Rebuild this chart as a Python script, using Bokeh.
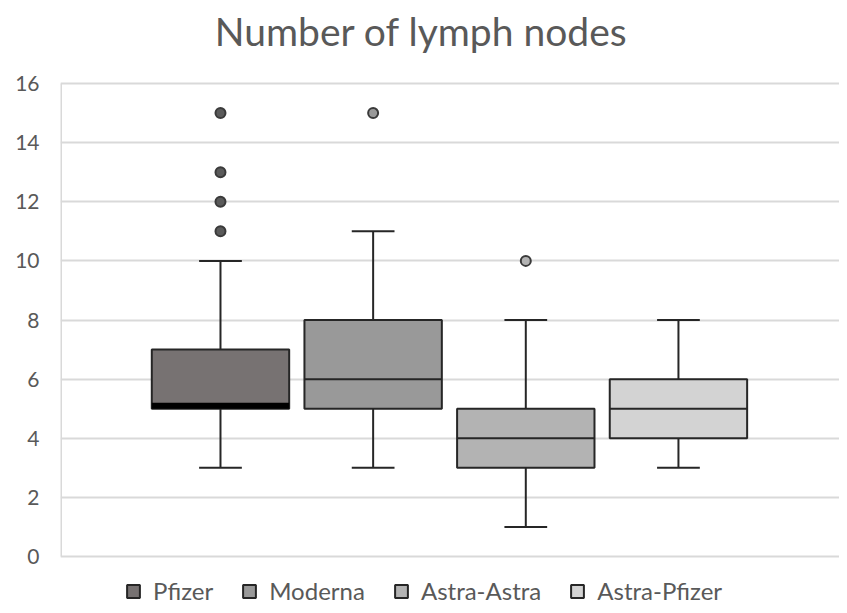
from bokeh.plotting import figure
from bokeh.models import Range1d, Legend, LegendItem, FixedTicker, Label
from bokeh.embed import file_html
from bokeh.resources import INLINE

title_text = "Number of lymph nodes"
groups = ["Pfizer", "Moderna", "Astra-Astra", "Astra-Pfizer"]
colors = ["#777272", "#999999", "#b3b3b3", "#d3d3d3"]
lower_whisker = [3, 3, 1, 3]
q1 = [5, 5, 3, 4]
median = [5, 6, 4, 5]
q3 = [7, 8, 5, 6]
upper_whisker = [10, 11, 8, 8]
outliers = [[15, 13, 12, 11], [15], [10], []]
y_ticks = [0, 2, 4, 6, 8, 10, 12, 14, 16]

FONT = "Lato"
EDGE = "#262626"
GRID = "#d9d9d9"
W, H = 839, 605
LEFT = 60

px_per_unit = 473 / 16.0
y_min = y_ticks[0] - 49 / px_per_unit   # room below for the legend
y_max = y_ticks[-1] + 83 / px_per_unit  # room above for the title
x_start, x_end = -0.048, 5.055

p = figure(width=W, height=H, output_backend="svg", toolbar_location=None,
           x_range=Range1d(x_start, x_end), y_range=Range1d(y_min, y_max),
           min_border_left=LEFT, min_border_right=0, min_border_top=0, min_border_bottom=0)
p.outline_line_color = None
p.background_fill_color = "white"
p.border_fill_color = "white"

p.add_layout(Label(x=421 - LEFT, y=H - 30, x_units="screen", y_units="screen",
                   text=title_text, text_align="center", text_baseline="alphabetic",
                   text_font=FONT, text_font_size="39px", text_color="#595959"))

xs = list(range(1, len(groups) + 1))
bw = 0.9
cap = 0.28

p.xaxis.visible = False
p.xgrid.visible = False
p.ygrid.grid_line_color = GRID
p.ygrid.grid_line_width = 2
p.yaxis.ticker = FixedTicker(ticks=y_ticks)
p.yaxis.axis_line_color = None
p.yaxis.major_tick_line_color = None
p.yaxis.minor_tick_line_color = None
p.yaxis.major_label_text_font = FONT
p.yaxis.major_label_text_font_size = "21px"
p.yaxis.major_label_text_color = "#595959"
p.yaxis.major_label_standoff = 15

# vertical axis line from 0 to top tick
p.segment(x0=[x_start], y0=[y_ticks[0]], x1=[x_start], y1=[y_ticks[-1]],
          line_color=GRID, line_width=3)

items = []
dy = 1 / px_per_unit
for i, g in enumerate(groups):
    x = xs[i]
    p.segment(x0=[x, x], y0=[q3[i], lower_whisker[i]], x1=[x, x], y1=[upper_whisker[i], q1[i]],
              line_color=EDGE, line_width=2)
    p.segment(x0=[x - cap / 2, x - cap / 2], y0=[upper_whisker[i], lower_whisker[i]],
              x1=[x + cap / 2, x + cap / 2], y1=[upper_whisker[i], lower_whisker[i]],
              line_color=EDGE, line_width=2)
    r = p.vbar(x=[x], width=bw, bottom=[q1[i]], top=[q3[i]], fill_color=colors[i],
               line_color=EDGE, line_width=2)
    if median[i] == q1[i]:
        p.segment(x0=[x - bw / 2], y0=[median[i] + 3 * dy], x1=[x + bw / 2], y1=[median[i] + 3 * dy],
                  line_color="#000000", line_width=6)
    else:
        p.segment(x0=[x - bw / 2], y0=[median[i]], x1=[x + bw / 2], y1=[median[i]],
                  line_color=EDGE, line_width=2)
    if outliers[i]:
        p.scatter(x=[x] * len(outliers[i]), y=outliers[i], size=10, marker="circle",
                  fill_color="#5a5a5a" if i == 0 else colors[i], line_color="#3a3a3a", line_width=2)
    items.append(LegendItem(label=g, renderers=[r]))

legend = Legend(items=items, orientation="horizontal", location=(65, 0),
                glyph_width=16, glyph_height=16, label_standoff=12, spacing=28,
                label_text_font=FONT, label_text_font_size="24px", label_text_color="#595959",
                border_line_color=None, background_fill_alpha=0, padding=0, margin=0)
p.add_layout(legend, "center")

open("out.html", "w").write(file_html(p, INLINE))
